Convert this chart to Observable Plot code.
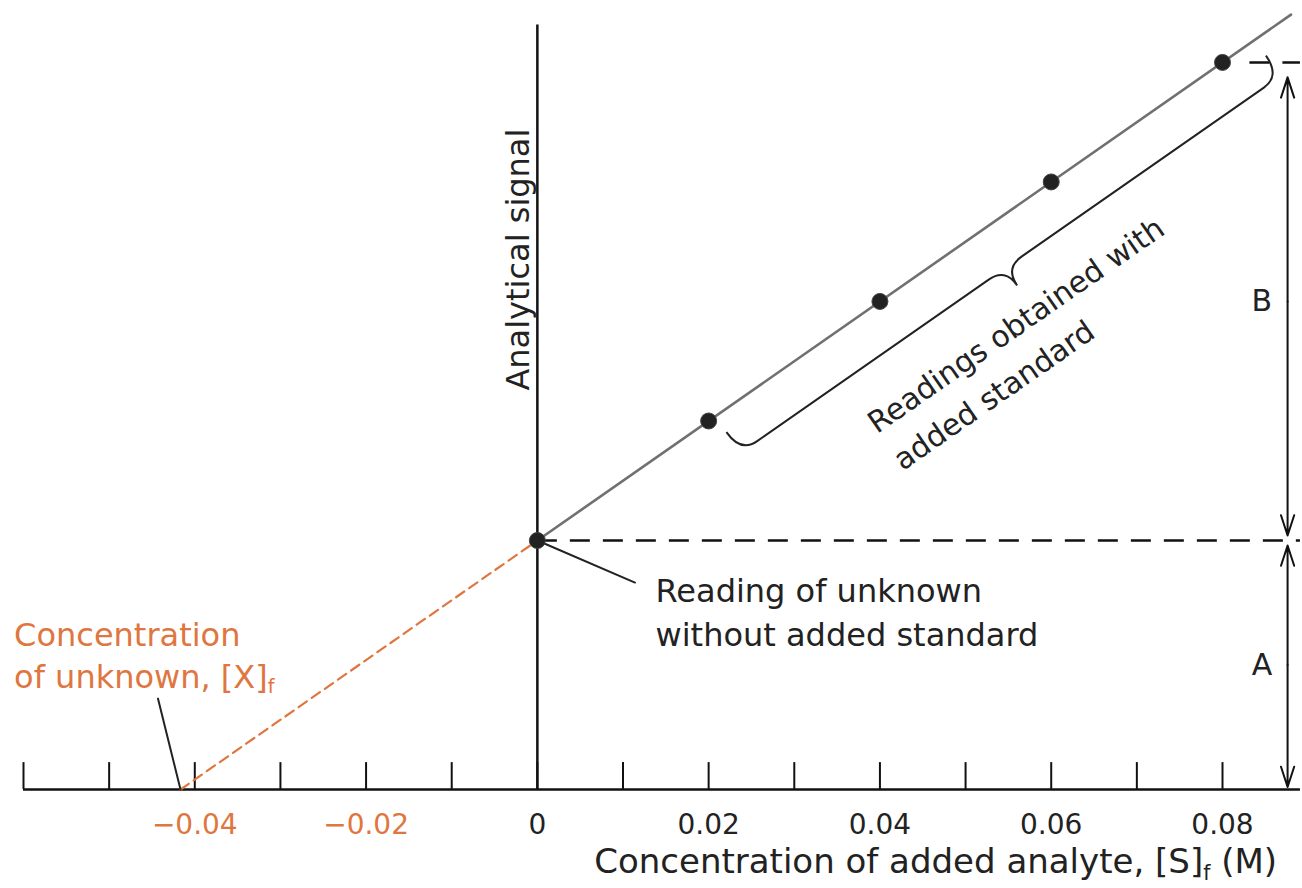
<!DOCTYPE html>
<html><head><meta charset="utf-8">
<script src="https://cdn.jsdelivr.net/npm/d3@7"></script>
<script src="https://cdn.jsdelivr.net/npm/@observablehq/plot@0.6"></script>
<style>
body{margin:0;background:#fff;}
</style></head><body><div id="chart"></div>
<script>
// ---- data ----
const addedConc = [0, 0.02, 0.04, 0.06, 0.08];          // [S]f (M)
const signal    = [1.0, 1.48, 1.96, 2.44, 2.92];        // analytical signal (arbitrary units, baseline = 0)
const tickValues  = [-0.06,-0.05,-0.04,-0.03,-0.02,-0.01,0,0.01,0.02,0.03,0.04,0.05,0.06,0.07,0.08];
const labelValues = [-0.04,-0.02,0,0.02,0.04,0.06,0.08];
const xTitle = "Concentration of added analyte, [S]f (M)";
const yTitle = "Analytical signal";
const unknownNote = "Reading of unknown\nwithout added standard";
const concNote = "Concentration\nof unknown, [X]f";
const braceNote = "Readings obtained with\nadded standard";

const ORANGE = "#e0763f";
const FONT = "DejaVu Sans, Liberation Sans, Arial, sans-serif";

// least-squares fit of the standard-addition line
const mx = d3.mean(addedConc), my = d3.mean(signal);
const slope = d3.sum(addedConc, (x, i) => (x - mx) * (signal[i] - my)) / d3.sum(addedConc, x => (x - mx) ** 2);
const intercept = my - slope * mx;
const xUnknown = -intercept / slope;
const pts = addedConc.map((x, i) => ({x, y: signal[i]}));

const xMin = -0.06, xEdge = 0.0891, xLineEnd = 0.088, xArrow = 0.0876;
const yAxisTop = 3.07;
const lastReading = signal[signal.length - 1];

function brace(index, scales) {
  const X = scales.x, Y = scales.y;
  const x0 = 0.0208, x1 = 0.0838;
  const p0 = [X(x0), Y(intercept + slope * x0)];
  const p1 = [X(x1), Y(intercept + slope * x1)];
  const dx = p1[0] - p0[0], dy = p1[1] - p0[1];
  const L = Math.hypot(dx, dy);
  const u = [dx / L, dy / L];
  const n = [-u[1], u[0]];
  const pt = (s, o) => `${p0[0] + u[0] * s + n[0] * o},${p0[1] + u[1] * s + n[1] * o}`;
  const r = 20, oEnd = 20, oBody = 45, oTip = 66, m = L * 0.49;
  const d = `M${pt(0, oEnd)} Q${pt(0, oBody)} ${pt(r, oBody)} L${pt(m - r, oBody)} Q${pt(m, oBody)} ${pt(m, oTip)} Q${pt(m, oBody)} ${pt(m + r, oBody)} L${pt(L - r, oBody)} Q${pt(L, oBody)} ${pt(L, oEnd)}`;
  const path = document.createElementNS("http://www.w3.org/2000/svg", "path");
  path.setAttribute("d", d);
  path.setAttribute("fill", "none");
  path.setAttribute("stroke", "#222");
  path.setAttribute("stroke-width", "2");
  const g = document.createElementNS("http://www.w3.org/2000/svg", "g");
  g.appendChild(path);
  return g;
}

const fmt = d => d === 0 ? "0" : (d < 0 ? "\u2212" : "") + Math.abs(d).toFixed(2);

const chart = Plot.plot({
  width: 1302,
  height: 888,
  margin: 0,
  style: {fontFamily: FONT, background: "#fff", color: "#222"},
  x: {domain: [-0.06, 0.08], range: [23, 1222], axis: null},
  y: {domain: [0, 1], range: [789, 540], axis: null},
  marks: [
    // axis baseline, ticks, vertical axis line
    Plot.ruleY([0], {x1: xMin, x2: xEdge, stroke: "#111", strokeWidth: 2.5}),
    Plot.ruleX(tickValues, {x: d => d, y1: 0, y2: 0.108, stroke: "#111", strokeWidth: 2}),
    Plot.ruleX([0], {y1: 0, y2: yAxisTop, stroke: "#111", strokeWidth: 2.5}),
    // dashed reference levels
    Plot.ruleY([intercept], {x1: 0, x2: xEdge, stroke: "#111", strokeWidth: 2.5, strokeDasharray: "20,13"}),
    Plot.ruleY([lastReading], {x1: 0.0832, x2: xEdge, stroke: "#111", strokeWidth: 2.5, strokeDasharray: "20,13"}),
    // extrapolation (orange dashed) and fitted line (gray)
    Plot.line([{x: xUnknown, y: 0}, {x: 0, y: intercept}], {x: "x", y: "y", stroke: ORANGE, strokeWidth: 2.2, strokeDasharray: "10,6"}),
    Plot.line([{x: 0, y: intercept}, {x: xLineEnd, y: intercept + slope * xLineEnd}], {x: "x", y: "y", stroke: "#707070", strokeWidth: 2.6}),
    // leader lines
    Plot.line([{x: 0, y: intercept}, {x: 0.0114, y: 0.831}], {x: "x", y: "y", stroke: "#222", strokeWidth: 2}),
    Plot.line([{x: -0.0443, y: 0.365}, {x: xUnknown, y: 0}], {x: "x", y: "y", stroke: "#222", strokeWidth: 2}),
    // brace
    brace,
    // data points
    Plot.dot(pts, {x: "x", y: "y", r: 8, fill: "#222", stroke: "#444", strokeWidth: 1}),
    // double-headed arrows A and B
    Plot.arrow([
      {y1: (intercept + lastReading) / 2, y2: lastReading - 0.06},
      {y1: (intercept + lastReading) / 2, y2: intercept + 0.02},
      {y1: intercept / 2, y2: intercept - 0.02},
      {y1: intercept / 2, y2: 0.01}
    ], {x1: xArrow, x2: xArrow, y1: "y1", y2: "y2", stroke: "#111", strokeWidth: 2, headLength: 16, headAngle: 36}),
    Plot.text(["B"], {x: 0.0846, y: (intercept + lastReading) / 2, text: d => d, fontSize: 30, fill: "#222"}),
    Plot.text(["A"], {x: 0.0846, y: intercept / 2, text: d => d, fontSize: 30, fill: "#222"}),
    // tick labels
    Plot.text(labelValues, {x: d => d, y: 0, dy: 36, text: fmt, fontSize: 28, fill: d => d < 0 ? ORANGE : "#222"}),
    // axis titles
    Plot.text([xTitle], {x: 0.0465, y: 0, dy: 73, text: d => d, fontSize: 34, fill: "#222"}),
    Plot.text([yTitle], {x: -0.0022, y: 1.602, text: d => d, rotate: -90, textAnchor: "start", fontSize: 32, fill: "#222"}),
    // annotations
    Plot.text([unknownNote], {x: 0.0138, y: 0.72, text: d => d, textAnchor: "start", lineAnchor: "middle", lineHeight: 1.35, fontSize: 32, fill: "#222"}),
    Plot.text([concNote], {x: -0.0611, y: 0.546, text: d => d, textAnchor: "start", lineAnchor: "middle", lineHeight: 1.3, fontSize: 32, fill: ORANGE}),
    Plot.text([braceNote], {x: 0.0402, y: 1.40, text: d => d, rotate: -34.8, textAnchor: "start", lineAnchor: "middle", lineHeight: 1.5, fontSize: 30, fill: "#222"})
  ]
});

// subscript "f" in [X]f and [S]f
chart.querySelectorAll("text, tspan").forEach(el => {
  if (el.children.length) return;
  const t = el.textContent;
  const k = t.indexOf("]f");
  if (k < 0) return;
  el.textContent = t.slice(0, k + 1);
  const sub = document.createElementNS("http://www.w3.org/2000/svg", "tspan");
  sub.setAttribute("font-size", "0.6em");
  sub.setAttribute("dy", "0.3em");
  sub.textContent = "f";
  el.appendChild(sub);
  const rest = t.slice(k + 2);
  if (rest) {
    const r = document.createElementNS("http://www.w3.org/2000/svg", "tspan");
    r.setAttribute("dy", "-0.18em");
    r.textContent = rest;
    el.appendChild(r);
  }
});

document.getElementById("chart").appendChild(chart);
</script>
</body></html>
